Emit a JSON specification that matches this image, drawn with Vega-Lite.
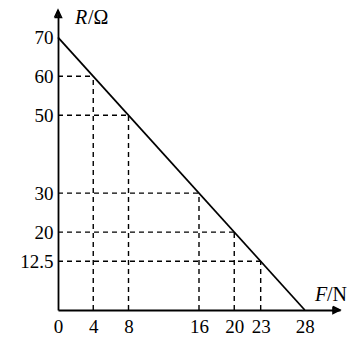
{
  "$schema": "https://vega.github.io/schema/vega-lite/v6.json",
  "width": 282,
  "height": 296,
  "autosize": {"type": "none"},
  "padding": {"left": 58, "top": 14, "right": 10, "bottom": 28},
  "background": "white",
  "config": {
    "view": {"stroke": null},
    "font": "Liberation Serif",
    "axis": {
      "domainColor": "black",
      "domainWidth": 1.8,
      "ticks": false,
      "grid": false,
      "labelFont": "Liberation Serif",
      "labelFontSize": 19,
      "labelColor": "black",
      "labelFlush": false,
      "labelOverlap": false
    }
  },
  "datasets": {
    "guides": [
      {"seg": "h4", "F": 0, "R": 60}, {"seg": "h4", "F": 4, "R": 60},
      {"seg": "v4", "F": 4, "R": 0}, {"seg": "v4", "F": 4, "R": 60},
      {"seg": "h8", "F": 0, "R": 50}, {"seg": "h8", "F": 8, "R": 50},
      {"seg": "v8", "F": 8, "R": 0}, {"seg": "v8", "F": 8, "R": 50},
      {"seg": "h16", "F": 0, "R": 30}, {"seg": "h16", "F": 16, "R": 30},
      {"seg": "v16", "F": 16, "R": 0}, {"seg": "v16", "F": 16, "R": 30},
      {"seg": "h20", "F": 0, "R": 20}, {"seg": "h20", "F": 20, "R": 20},
      {"seg": "v20", "F": 20, "R": 0}, {"seg": "v20", "F": 20, "R": 20},
      {"seg": "h23", "F": 0, "R": 12.5}, {"seg": "h23", "F": 23, "R": 12.5},
      {"seg": "v23", "F": 23, "R": 0}, {"seg": "v23", "F": 23, "R": 12.5}
    ],
    "line": [
      {"F": 0, "R": 70},
      {"F": 28, "R": 0}
    ],
    "arrows": [
      {"seg": "ya", "o": 1, "F": -0.4, "R": 75.1},
      {"seg": "ya", "o": 2, "F": 0, "R": 77},
      {"seg": "ya", "o": 3, "F": 0.4, "R": 75.1},
      {"seg": "ya", "o": 4, "F": -0.4, "R": 75.1},
      {"seg": "yb", "o": 1, "F": -0.2, "R": 75.1},
      {"seg": "yb", "o": 2, "F": 0, "R": 77},
      {"seg": "yc", "o": 1, "F": 0.2, "R": 75.1},
      {"seg": "yc", "o": 2, "F": 0, "R": 77},
      {"seg": "yd", "o": 1, "F": 0, "R": 75.1},
      {"seg": "yd", "o": 2, "F": 0, "R": 77},
      {"seg": "xa", "o": 1, "F": 31.2, "R": 0.9},
      {"seg": "xa", "o": 2, "F": 32, "R": 0},
      {"seg": "xa", "o": 3, "F": 31.2, "R": -0.9},
      {"seg": "xa", "o": 4, "F": 31.2, "R": 0.9},
      {"seg": "xb", "o": 1, "F": 31.2, "R": 0.45},
      {"seg": "xb", "o": 2, "F": 32, "R": 0},
      {"seg": "xc", "o": 1, "F": 31.2, "R": -0.45},
      {"seg": "xc", "o": 2, "F": 32, "R": 0},
      {"seg": "xd", "o": 1, "F": 31.2, "R": 0},
      {"seg": "xd", "o": 2, "F": 32, "R": 0}
    ],
    "labels": [
      {"name": "ytitle", "F": 1.93, "R": 75.1},
      {"name": "xtitle", "F": 29.16, "R": 3.85}
    ]
  },
  "layer": [
    {
      "data": {"name": "line"},
      "mark": {"type": "line", "color": "black", "strokeWidth": 1.8},
      "encoding": {
        "x": {"field": "F", "type": "quantitative", "title": null, "scale": {"domain": [0, 32], "nice": false, "zero": false},
          "axis": {"values": [0, 4, 8, 16, 20, 23, 28], "labelPadding": 7, "labelAngle": 0, "labelExpr": "'' + datum.value"}},
        "y": {"field": "R", "type": "quantitative", "title": null, "scale": {"domain": [0, 76], "nice": false, "zero": false},
          "axis": {"values": [12.5, 20, 30, 50, 60, 70], "labelPadding": 5, "labelExpr": "'' + datum.value"}}
      }
    },
    {
      "data": {"name": "guides"},
      "mark": {"type": "line", "strokeDash": [5, 4], "strokeWidth": 1.4, "color": "black"},
      "encoding": {
        "x": {"field": "F", "type": "quantitative"},
        "y": {"field": "R", "type": "quantitative"},
        "detail": {"field": "seg", "type": "nominal"}
      }
    },
    {
      "data": {"name": "arrows"},
      "mark": {"type": "line", "strokeWidth": 1.5, "color": "black", "clip": false},
      "encoding": {
        "x": {"field": "F", "type": "quantitative"},
        "y": {"field": "R", "type": "quantitative"},
        "detail": {"field": "seg", "type": "nominal"},
        "order": {"field": "o", "type": "quantitative"}
      }
    },
    {
      "data": {"name": "labels"},
      "transform": [{"filter": "datum.name === 'ytitle'"}],
      "mark": {"type": "text", "text": "R", "fontStyle": "italic", "fontSize": 20, "align": "left", "baseline": "middle", "color": "black"},
      "encoding": {
        "x": {"field": "F", "type": "quantitative"},
        "y": {"field": "R", "type": "quantitative"}
      }
    },
    {
      "data": {"name": "labels"},
      "transform": [{"filter": "datum.name === 'ytitle'"}],
      "mark": {"type": "text", "text": "/Ω", "fontSize": 20, "align": "left", "baseline": "middle", "color": "black", "dx": 13},
      "encoding": {
        "x": {"field": "F", "type": "quantitative"},
        "y": {"field": "R", "type": "quantitative"}
      }
    },
    {
      "data": {"name": "labels"},
      "transform": [{"filter": "datum.name === 'xtitle'"}],
      "mark": {"type": "text", "text": "F", "fontStyle": "italic", "fontSize": 20, "align": "left", "baseline": "middle", "color": "black"},
      "encoding": {
        "x": {"field": "F", "type": "quantitative"},
        "y": {"field": "R", "type": "quantitative"}
      }
    },
    {
      "data": {"name": "labels"},
      "transform": [{"filter": "datum.name === 'xtitle'"}],
      "mark": {"type": "text", "text": "/N", "fontSize": 20, "align": "left", "baseline": "middle", "color": "black", "dx": 12},
      "encoding": {
        "x": {"field": "F", "type": "quantitative"},
        "y": {"field": "R", "type": "quantitative"}
      }
    }
  ]
}
